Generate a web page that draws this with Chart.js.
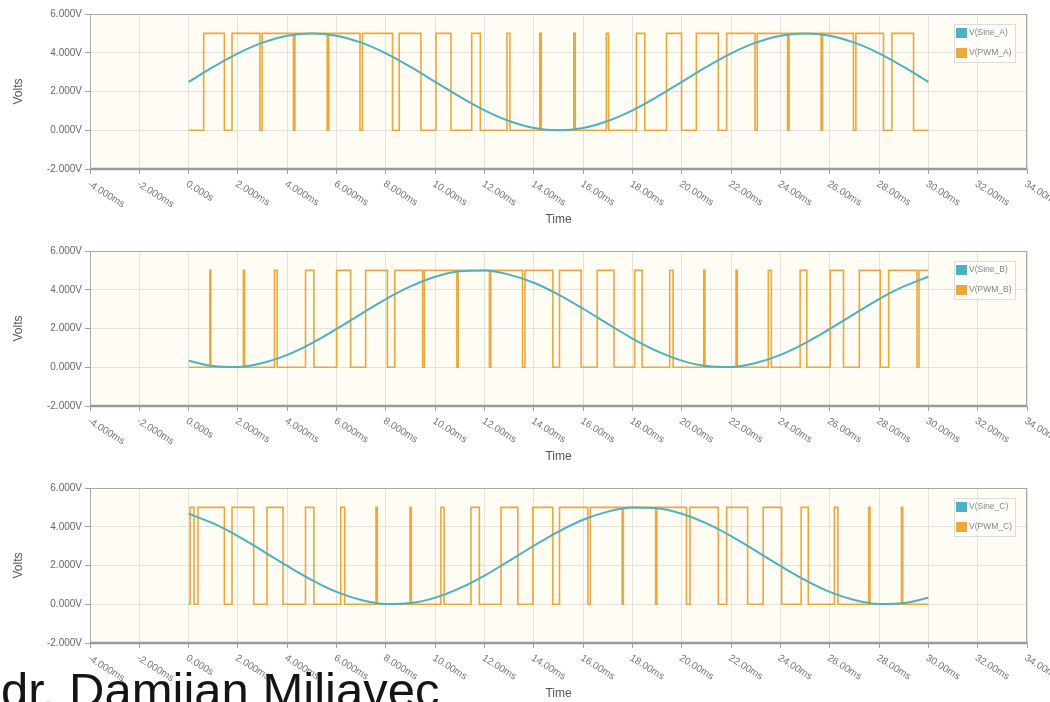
<!DOCTYPE html>
<html>
<head>
<meta charset="utf-8">
<script src="https://cdn.jsdelivr.net/npm/chart.js@4.4.1/dist/chart.umd.min.js"></script>
<style>
  html, body { margin: 0; padding: 0; background: #ffffff; }
  body { width: 1050px; height: 702px; overflow: hidden; position: relative; }
  .panel { position: absolute; left: 0; width: 1050px; height: 237px; }
  #author {
    position: absolute; left: 1px; top: 666px;
    font-family: "Liberation Sans", Arial, sans-serif; font-size: 49px; line-height: 49px;
    color: #151515; white-space: nowrap;
  }
</style>
</head>
<body>
<canvas id="chartA" class="panel" width="1050" height="237" style="top:0px"></canvas>
<canvas id="chartB" class="panel" width="1050" height="237" style="top:237px"></canvas>
<canvas id="chartC" class="panel" width="1050" height="237" style="top:474px"></canvas>
<div id="author">dr. Damijan Miljavec</div>

<script>
// ---- time axis (ms) and voltage axis ----
const timeTicks = [-4, -2, 0, 2, 4, 6, 8, 10, 12, 14, 16, 18, 20, 22, 24, 26, 28, 30, 32, 34];
const timeTickLabels = ['-4.000ms', '-2.000ms', '0.000s', '2.000ms', '4.000ms', '6.000ms', '8.000ms',
  '10.00ms', '12.00ms', '14.00ms', '16.00ms', '18.00ms', '20.00ms', '22.00ms', '24.00ms',
  '26.00ms', '28.00ms', '30.00ms', '32.00ms', '34.00ms'];
const voltTicks = [-2, 0, 2, 4, 6];
const voltTickLabels = ['-2.000V', '0.000V', '2.000V', '4.000V', '6.000V'];

// ---- reference sine voltages, sampled every 1 ms from 0 to 30 ms ----
const sampleTimes = [0, 1, 2, 3, 4, 5, 6, 7, 8, 9, 10, 11, 12, 13, 14, 15, 16, 17, 18, 19, 20,
  21, 22, 23, 24, 25, 26, 27, 28, 29, 30];
const sineA = [2.50, 3.27, 3.97, 4.52, 4.88, 5.00, 4.88, 4.52, 3.97, 3.27, 2.50, 1.73, 1.03, 0.48, 0.12,
  0.00, 0.12, 0.48, 1.03, 1.73, 2.50, 3.27, 3.97, 4.52, 4.88, 5.00, 4.88, 4.52, 3.97, 3.27, 2.50];
const sineB = [0.34, 0.06, 0.01, 0.22, 0.64, 1.25, 1.98, 2.76, 3.52, 4.17, 4.67, 4.95, 4.99, 4.78, 4.36,
  3.75, 3.02, 2.24, 1.48, 0.83, 0.34, 0.06, 0.01, 0.22, 0.64, 1.25, 1.98, 2.76, 3.52, 4.17, 4.67];
const sineC = [4.67, 4.17, 3.52, 2.76, 1.98, 1.25, 0.64, 0.22, 0.01, 0.06, 0.34, 0.83, 1.48, 2.24, 3.02,
  3.75, 4.36, 4.78, 4.99, 4.95, 4.67, 4.17, 3.52, 2.76, 1.98, 1.25, 0.64, 0.22, 0.01, 0.06, 0.34];

// ---- PWM outputs: switching instants (ms); each one toggles between 0 V and 5 V, starting low ----
const pwmLow = 0;
const pwmHigh = 5;
const pwmEnd = 30;
const pwmEdgesA = [0.61, 1.45, 1.76, 2.89, 2.98, 4.25, 4.31, 5.62, 5.68, 6.95, 7.05, 8.27, 8.54, 9.42,
  10.03, 10.64, 11.48, 11.83, 12.91, 13.03, 14.24, 14.30, 15.62, 15.68, 16.94, 17.03, 18.16, 18.50,
  19.38, 19.99, 20.59, 21.48, 21.82, 22.97, 23.06, 24.29, 24.35, 25.65, 25.71, 26.96, 27.06, 28.18,
  28.52, 29.40];
const pwmEdgesB = [0.86, 0.90, 2.22, 2.27, 3.48, 3.59, 4.74, 5.08, 6.00, 6.57, 7.18, 8.06, 8.36, 9.49,
  9.56, 10.88, 10.93, 12.20, 12.25, 13.54, 13.64, 14.77, 15.04, 15.92, 16.57, 17.25, 18.09, 18.39,
  19.51, 19.65, 20.89, 20.94, 22.20, 22.25, 23.51, 23.63, 24.80, 25.07, 26.02, 26.56, 27.20, 28.05,
  28.39, 29.54, 29.62];
const pwmEdgesC = [0.06, 0.22, 0.38, 1.45, 1.76, 2.64, 3.18, 3.83, 4.74, 5.08, 6.17, 6.33, 7.60, 7.65,
  8.98, 9.03, 10.23, 10.36, 11.45, 11.79, 12.67, 13.35, 13.96, 14.77, 15.04, 16.19, 16.29, 17.58,
  17.63, 18.94, 18.99, 20.19, 20.33, 21.48, 21.82, 22.67, 23.30, 24.05, 24.84, 25.13, 26.19, 26.33,
  27.58, 27.63, 28.91, 28.96];

const seriesNames = {
  A: ['V(Sine_A)', 'V(PWM_A)'],
  B: ['V(Sine_B)', 'V(PWM_B)'],
  C: ['V(Sine_C)', 'V(PWM_C)']
};

const SINE_COLOR = '#4cb1c3';
const PWM_COLOR = '#eda83c';
const FONT = '"Liberation Sans", Arial, sans-serif';

function sinePoints(values) {
  return sampleTimes.map((t, i) => ({ x: t, y: values[i] }));
}

function pwmPoints(edges) {
  let level = pwmLow;
  const pts = [{ x: 0, y: level }];
  for (const t of edges) {
    level = (level === pwmLow) ? pwmHigh : pwmLow;
    pts.push({ x: t, y: level });
  }
  pts.push({ x: pwmEnd, y: level });
  return pts;
}

// plot background, frame, slanted time labels, axis title and legend box
const scopeDecor = {
  id: 'scopeDecor',
  beforeDraw(chart) {
    const { ctx, chartArea: a } = chart;
    ctx.save();
    ctx.fillStyle = '#fffcf3';
    ctx.fillRect(a.left, a.top, a.right - a.left, a.bottom - a.top);
    ctx.restore();
  },
  beforeDatasetsDraw(chart) {
    const { ctx, chartArea: a } = chart;
    ctx.save();
    ctx.strokeStyle = '#a8a8a8';
    ctx.lineWidth = 1;
    ctx.strokeRect(a.left + 0.5, a.top + 0.5, a.right - a.left - 1, a.bottom - a.top - 1);
    ctx.strokeStyle = '#9a9a9a';
    ctx.lineWidth = 2.5;
    ctx.beginPath();
    ctx.moveTo(a.left, a.bottom);
    ctx.lineTo(a.right, a.bottom);
    ctx.stroke();
    ctx.restore();
  },
  afterDraw(chart) {
    const { ctx, chartArea: a } = chart;
    const xs = chart.scales.x;
    ctx.save();
    // slanted time tick labels
    ctx.fillStyle = '#747474';
    ctx.font = '10px ' + FONT;
    ctx.textAlign = 'left';
    ctx.textBaseline = 'top';
    timeTicks.forEach((t, i) => {
      const px = xs.getPixelForValue(t);
      ctx.save();
      ctx.translate(px + 1, a.bottom + 10);
      ctx.rotate(32 * Math.PI / 180);
      ctx.fillText(timeTickLabels[i], 0, 0);
      ctx.restore();
    });
    // axis title
    ctx.fillStyle = '#555555';
    ctx.font = '12px ' + FONT;
    ctx.textAlign = 'center';
    ctx.textBaseline = 'middle';
    ctx.fillText('Time', (a.left + a.right) / 2, a.bottom + 51);

    // legend
    const bx = a.right - 73, by = a.top + 10, bw = 61, bh = 38;
    ctx.fillStyle = 'rgba(255,255,255,0.55)';
    ctx.fillRect(bx, by, bw, bh);
    ctx.strokeStyle = '#dcdcdc';
    ctx.lineWidth = 1;
    ctx.strokeRect(bx + 0.5, by + 0.5, bw, bh);
    ctx.font = '8.5px ' + FONT;
    ctx.textAlign = 'left';
    ctx.textBaseline = 'middle';
    chart.data.datasets.forEach((ds, i) => {
      const sy = by + 4 + i * 20;
      ctx.fillStyle = ds.borderColor;
      ctx.fillRect(bx + 2, sy, 11, 10);
      ctx.fillStyle = '#858585';
      ctx.fillText(ds.label, bx + 15, sy + 4.5);
    });
    ctx.restore();
  }
};

function makeChart(id, sineValues, pwmEdges, names) {
  return new Chart(document.getElementById(id), {
    type: 'line',
    data: {
      datasets: [
        {
          label: names[0],
          data: sinePoints(sineValues),
          borderColor: SINE_COLOR,
          backgroundColor: SINE_COLOR,
          borderWidth: 2,
          pointRadius: 0,
          cubicInterpolationMode: 'monotone',
          fill: false
        },
        {
          label: names[1],
          data: pwmPoints(pwmEdges),
          borderColor: PWM_COLOR,
          backgroundColor: PWM_COLOR,
          borderWidth: 1.6,
          pointRadius: 0,
          stepped: true,
          fill: false
        }
      ]
    },
    options: {
      responsive: false,
      animation: false,
      devicePixelRatio: 1,
      layout: { padding: { left: 0, right: 23, top: 14, bottom: 0 } },
      plugins: { legend: { display: false }, tooltip: { enabled: false } },
      scales: {
        x: {
          type: 'linear',
          min: -4,
          max: 34,
          afterBuildTicks(scale) { scale.ticks = timeTicks.map(v => ({ value: v })); },
          ticks: { display: false },
          grid: { color: '#e4e2dc', drawTicks: true, tickLength: 5, tickColor: '#a0a0a0' },
          border: { display: false },
          afterFit(scale) { scale.height = 68; }
        },
        y: {
          type: 'linear',
          min: -2,
          max: 6,
          afterBuildTicks(scale) { scale.ticks = voltTicks.map(v => ({ value: v })); },
          ticks: {
            padding: 3,
            color: '#666666',
            font: { family: FONT, size: 10 },
            callback: (v) => voltTickLabels[voltTicks.indexOf(v)]
          },
          grid: { color: '#e4e2dc', drawTicks: true, tickLength: 5, tickColor: '#a0a0a0' },
          border: { display: false },
          title: {
            display: true,
            text: 'Volts',
            color: '#555555',
            font: { family: FONT, size: 12 },
            padding: { top: 11, bottom: 0 }
          },
          afterFit(scale) { scale.width = 90; }
        }
      }
    },
    plugins: [scopeDecor]
  });
}

makeChart('chartA', sineA, pwmEdgesA, seriesNames.A);
makeChart('chartB', sineB, pwmEdgesB, seriesNames.B);
makeChart('chartC', sineC, pwmEdgesC, seriesNames.C);
</script>
</body>
</html>
